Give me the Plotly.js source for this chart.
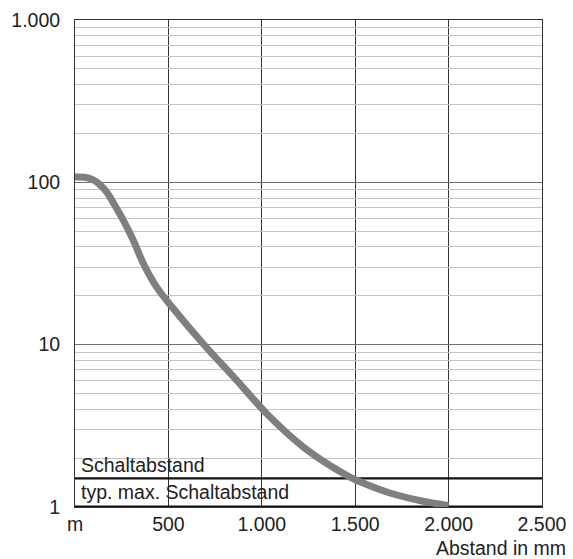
<!DOCTYPE html>
<html>
<head>
<meta charset="utf-8">
<script src="https://cdn.plot.ly/plotly-3.0.1.min.js"></script>
<style>html,body{margin:0;padding:0;background:#fff;}#chart{width:573px;height:559px;}</style>
</head>
<body>
<div id="chart"></div>
<script>
// Curve data (distance in mm, excess gain)
const distance = [0, 50, 95, 130, 170, 215, 259, 312, 366, 437, 526, 687, 866, 1026, 1222, 1365, 1472, 1552, 1686, 1864, 2000];
const gain     = [107.9, 107.5, 104, 97.5, 87, 71.5, 58.3, 44, 31.6, 22.6, 16.7, 10.1, 6.03, 3.76, 2.34, 1.8, 1.53, 1.39, 1.22, 1.085, 1.02];

// Reference levels
const refX = [0, 2500];
const schaltabstand = [1.5, 1.5];
const typMax = [1, 1];

// Ticks
const xTickVals = [0, 500, 1000, 1500, 2000, 2500];
const xTickText = ['m', '500', '1.000', '1.500', '2.000', '2.500'];
const yTickVals = [1, 10, 100, 1000];
const yTickText = ['1', '10', '100', '1.000'];
const yMinorVals = [2,3,4,5,6,7,8,9,20,30,40,50,60,70,80,90,200,300,400,500,600,700,800,900];

const fam = 'Liberation Sans, Arial, sans-serif';
const font = {family: fam, size: 19.5, color: '#222'};
const annFont = {family: fam, size: 19.5, color: '#222'};

const traces = [
  {x: refX, y: [1,1], yaxis: 'y2', mode: 'none', showlegend: false, hoverinfo: 'skip'},
  {x: refX, y: schaltabstand, mode: 'lines', line: {color: '#111', width: 2.2}, showlegend: false, hoverinfo: 'skip'},
  {x: refX, y: typMax, mode: 'lines', line: {color: '#111', width: 3}, showlegend: false, hoverinfo: 'skip', cliponaxis: false},
  {x: distance, y: gain, mode: 'lines', line: {color: '#7f7f7f', width: 7, shape: 'spline', smoothing: 0.9}, showlegend: false, cliponaxis: false}
];

const layout = {
  width: 573, height: 559,
  margin: {l: 75, r: 31, t: 20, b: 52},
  paper_bgcolor: '#fff', plot_bgcolor: 'rgba(0,0,0,0)',
  font: font,
  showlegend: false,
  xaxis: {
    range: [0, 2500], tickvals: xTickVals, ticktext: xTickText,
    showgrid: true, gridcolor: '#333', gridwidth: 1,
    zeroline: false, showline: true, linecolor: '#333', linewidth: 1, mirror: true,
    ticks: '', tickfont: font, ticklabelstandoff: 0
  },
  yaxis: {
    type: 'log', range: [0, 3], tickvals: yTickVals, ticktext: yTickText,
    showgrid: true, gridcolor: '#707070', gridwidth: 1.3,
    zeroline: false, showline: true, linecolor: '#333', linewidth: 1, mirror: true,
    ticks: '', tickfont: font, ticklabelstandoff: 10
  },
  yaxis2: {
    type: 'log', range: [0, 3], overlaying: 'y', tickvals: yMinorVals,
    showticklabels: false, showgrid: true, gridcolor: '#c4c4c4', gridwidth: 1,
    zeroline: false, showline: false, ticks: '', layer: 'below traces'
  },
  annotations: [
    {xref: 'paper', yref: 'y', x: 0.0, y: Math.log10(1.5), xanchor: 'left', yanchor: 'bottom', text: 'Schaltabstand', showarrow: false, font: annFont, xshift: 4, yshift: 0},
    {xref: 'paper', yref: 'y', x: 0.0, y: Math.log10(1.23), xanchor: 'left', yanchor: 'middle', text: 'typ. max. Schaltabstand', showarrow: false, font: annFont, xshift: 4},
    {xref: 'paper', yref: 'paper', x: 1.055, y: -0.085, xanchor: 'right', yanchor: 'middle', text: 'Abstand in mm', showarrow: false, font: annFont}
  ]
};

Plotly.newPlot('chart', traces, layout, {staticPlot: true, displayModeBar: false});
</script>
</body>
</html>
